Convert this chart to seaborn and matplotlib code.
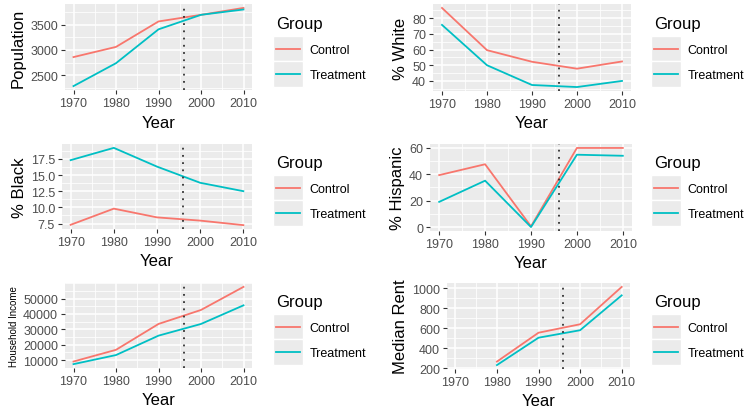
import numpy as np
import pandas as pd
import matplotlib
matplotlib.use("Agg")
import matplotlib.pyplot as plt
import seaborn as sns
from matplotlib.legend_handler import HandlerLine2D
from matplotlib.patches import Rectangle
from matplotlib.ticker import MultipleLocator, FormatStrFormatter

# data
years = [1970, 1980, 1990, 2000, 2010]
groups = ["Control", "Treatment"]

pop_control = [2860, 3060, 3560, 3690, 3826]
pop_treat = [2290, 2740, 3405, 3690, 3795]

white_control = [86.5, 59.6, 52.2, 47.8, 52.4]
white_treat = [75.7, 50.0, 37.4, 36.1, 40.0]

black_control = [7.3, 9.8, 8.45, 7.95, 7.25]
black_treat = [17.3, 19.2, 16.3, 13.8, 12.5]

hisp_control = [39.2, 47.4, 0.5, 59.7, 59.7]
hisp_treat = [19.0, 35.0, 0.0, 54.6, 53.8]

income_control = [9100, 16700, 33500, 42600, 57600]
income_treat = [7400, 13300, 25900, 33500, 45600]

rent_control = [np.nan, 265, 555, 640, 1015]
rent_treat = [np.nan, 230, 505, 580, 930]

cutoff_year = 1996

panels = [
    ("Population", pop_control, pop_treat, [2500, 3000, 3500], "%d", 12),
    ("% White", white_control, white_treat, [40, 50, 60, 70, 80], "%d", 12),
    ("% Black", black_control, black_treat, [7.5, 10.0, 12.5, 15.0, 17.5], "%.1f", 12),
    ("% Hispanic", hisp_control, hisp_treat, [0, 20, 40, 60], "%d", 12),
    ("Household Income", income_control, income_treat, [10000, 20000, 30000, 40000, 50000], "%d", 7),
    ("Median Rent", rent_control, rent_treat, [200, 400, 600, 800, 1000], "%d", 12),
]

# axes boxes in pixels: left, top, right, bottom
boxes = [
    (65, 5, 252, 91), (433, 5, 631, 92),
    (62, 145, 252, 230), (430, 145, 632, 232),
    (65, 284, 252, 369), (447, 284, 630, 370),
]
legend_xy = [(271, 12), (649, 12), (271, 151), (649, 151), (271, 290), (649, 290)]

palette = {"Control": "#F8766D", "Treatment": "#00BFC4"}

plt.rcParams["font.family"] = ["Liberation Sans", "DejaVu Sans"]

W, H = 751, 414
fig = plt.figure(figsize=(W / 100, H / 100), dpi=100)
fig.patch.set_facecolor("white")


class KeyHandler(HandlerLine2D):
    # grey key background like ggplot
    def create_artists(self, legend, orig_handle, xdescent, ydescent, width, height, fontsize, trans):
        bg = Rectangle((-xdescent - 2, -ydescent - 6), width + 4, height + 12,
                       facecolor="#EBEBEB", edgecolor="white", linewidth=1, transform=trans)
        arts = super().create_artists(legend, orig_handle, xdescent, ydescent, width, height, fontsize, trans)
        return [bg] + arts


for (label, c_vals, t_vals, yticks, fmt, lsize), (l, t, r, b), (lx, ly) in zip(panels, boxes, legend_xy):
    ax = fig.add_axes([l / W, 1 - b / H, (r - l) / W, (b - t) / H])
    df = pd.DataFrame({
        "Year": years * 2,
        "value": list(c_vals) + list(t_vals),
        "Group": ["Control"] * len(years) + ["Treatment"] * len(years),
    })
    sns.lineplot(data=df, x="Year", y="value", hue="Group", palette=palette,
                 hue_order=groups, linewidth=1.3, ax=ax)
    ax.axvline(cutoff_year, color="#333333", linestyle=(0, (1, 3)), linewidth=1.3)

    ax.set_facecolor("#EBEBEB")
    for s in ax.spines.values():
        s.set_visible(False)
    ax.set_xlim(1968, 2012)
    ax.set_xticks(years)
    ax.xaxis.set_minor_locator(MultipleLocator(5))
    ax.set_yticks(yticks)
    step = yticks[1] - yticks[0]
    ax.yaxis.set_minor_locator(MultipleLocator(step / 2))
    ax.yaxis.set_major_formatter(FormatStrFormatter(fmt))
    vals = [v for v in list(c_vals) + list(t_vals) if not np.isnan(v)]
    lo, hi = min(vals), max(vals)
    pad = (hi - lo) * 0.05
    ax.set_ylim(lo - pad, hi + pad)
    ax.grid(which="major", color="white", linewidth=1.1)
    ax.grid(which="minor", color="white", linewidth=0.55)
    ax.set_axisbelow(True)
    ax.tick_params(which="major", length=3, width=0.8, color="#333333",
                   labelsize=9, labelcolor="#4D4D4D", pad=2)
    ax.tick_params(which="minor", length=0)
    ax.set_xlabel("Year", fontsize=12, labelpad=4)
    ax.set_ylabel(label, fontsize=lsize, labelpad=3)

    handles, labs = ax.get_legend_handles_labels()
    ax.legend(handles, labs, title="Group", loc="upper left",
              bbox_to_anchor=(lx / W, 1 - ly / H), bbox_transform=fig.transFigure,
              frameon=False, fontsize=9, title_fontsize=12, handlelength=1.9,
              handletextpad=0.8, labelspacing=1.05, borderaxespad=0,
              alignment="left", handler_map={type(handles[0]): KeyHandler()})

fig.savefig("out.png", dpi=100)
